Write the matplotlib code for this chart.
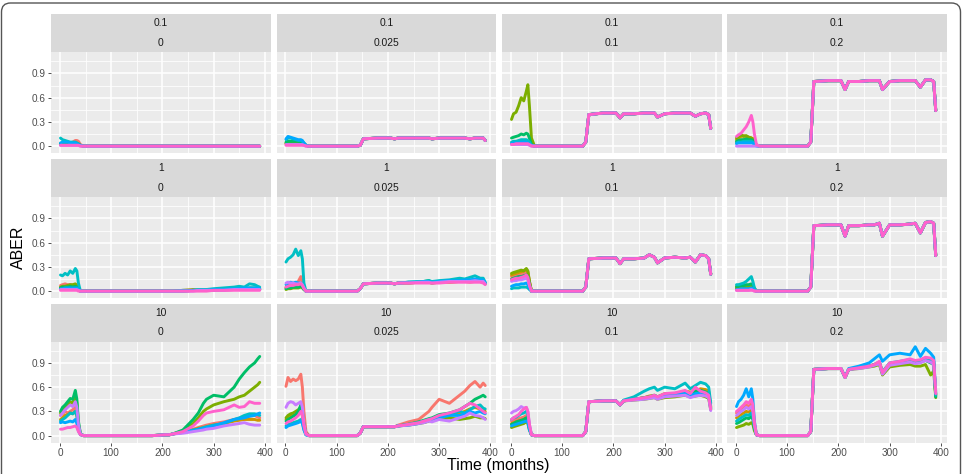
import matplotlib
matplotlib.use('Agg')
import matplotlib.pyplot as plt
from matplotlib.patches import FancyBboxPatch
from matplotlib.transforms import IdentityTransform

plt.rcParams['font.family'] = ['Liberation Sans', 'DejaVu Sans']

# ggplot hue palette, one colour per simulated series
COLORS = ['#F8766D', '#CD9600', '#7CAE00', '#00BE67', '#00BFC4', '#00A9FF', '#C77CFF', '#FF61CC']

# time points (months), split into early / middle / late segments
EARLY_T = [1, 5, 10, 15, 20, 25, 30, 33, 36, 40]
MID_T = [46, 100, 140, 146, 152, 180, 205, 213]
LATE_T = [220, 240, 260, 270, 280, 286, 300, 320, 340, 350, 360, 370, 380, 386, 390]

ROW_LABELS = ['0.1', '1', '10']
COL_LABELS = ['0', '0.025', '0.1', '0.2']

# ---- row "0.1" ----
a_early = [
    [0.02, 0.02, 0.03, 0.03, 0.04, 0.05, 0.07, 0.07, 0.06, 0.02],
    [0.02, 0.02, 0.03, 0.03, 0.03, 0.04, 0.04, 0.04, 0.03, 0.01],
    [0.02, 0.03, 0.03, 0.03, 0.03, 0.03, 0.03, 0.03, 0.02, 0.01],
    [0.03, 0.03, 0.04, 0.04, 0.04, 0.04, 0.03, 0.03, 0.02, 0.01],
    [0.10, 0.08, 0.07, 0.06, 0.05, 0.05, 0.05, 0.04, 0.03, 0.01],
    [0.04, 0.05, 0.05, 0.05, 0.04, 0.04, 0.04, 0.03, 0.02, 0.01],
    [0.01, 0.01, 0.01, 0.01, 0.01, 0.01, 0.01, 0.01, 0.01, 0.0],
    [0.01, 0.01, 0.01, 0.01, 0.01, 0.01, 0.01, 0.01, 0.01, 0.0],
]
a_mid = [0.0, 0.0, 0.0, 0.0, 0.0, 0.0, 0.0, 0.0]
a_late = [0.0, 0.0, 0.0, 0.0, 0.0, 0.0, 0.0, 0.0, 0.0, 0.0, 0.0, 0.0, 0.0, 0.0, 0.0]

b_early = [
    [0.03, 0.03, 0.04, 0.04, 0.04, 0.04, 0.05, 0.04, 0.03, 0.01],
    [0.03, 0.04, 0.04, 0.04, 0.04, 0.05, 0.05, 0.04, 0.03, 0.01],
    [0.04, 0.05, 0.05, 0.05, 0.05, 0.05, 0.05, 0.04, 0.03, 0.01],
    [0.05, 0.06, 0.06, 0.06, 0.06, 0.06, 0.05, 0.05, 0.03, 0.01],
    [0.08, 0.10, 0.10, 0.09, 0.08, 0.07, 0.07, 0.06, 0.04, 0.01],
    [0.09, 0.12, 0.11, 0.10, 0.09, 0.08, 0.08, 0.07, 0.04, 0.01],
    [0.02, 0.02, 0.02, 0.02, 0.02, 0.02, 0.02, 0.02, 0.01, 0.0],
    [0.01, 0.01, 0.01, 0.01, 0.01, 0.01, 0.01, 0.01, 0.01, 0.0],
]
b_mid = [0.0, 0.0, 0.0, 0.01, 0.09, 0.10, 0.10, 0.09]
b_late = [0.10, 0.10, 0.10, 0.10, 0.10, 0.09, 0.10, 0.10, 0.10, 0.10, 0.09, 0.10, 0.10, 0.10, 0.07]

c_early = [
    [0.03, 0.03, 0.04, 0.04, 0.05, 0.05, 0.06, 0.05, 0.03, 0.01],
    [0.03, 0.04, 0.04, 0.05, 0.05, 0.05, 0.05, 0.05, 0.03, 0.01],
    [0.33, 0.40, 0.42, 0.50, 0.60, 0.56, 0.68, 0.76, 0.50, 0.10],
    [0.10, 0.11, 0.12, 0.13, 0.15, 0.14, 0.16, 0.15, 0.10, 0.02],
    [0.05, 0.06, 0.06, 0.07, 0.08, 0.08, 0.08, 0.07, 0.05, 0.01],
    [0.03, 0.04, 0.04, 0.04, 0.05, 0.05, 0.05, 0.04, 0.03, 0.01],
    [0.02, 0.02, 0.02, 0.02, 0.02, 0.02, 0.02, 0.02, 0.01, 0.0],
    [0.02, 0.02, 0.03, 0.03, 0.03, 0.03, 0.03, 0.03, 0.02, 0.0],
]
c_mid = [0.0, 0.0, 0.0, 0.05, 0.39, 0.41, 0.41, 0.35]
c_late = [0.40, 0.40, 0.41, 0.41, 0.41, 0.36, 0.40, 0.41, 0.41, 0.41, 0.37, 0.40, 0.41, 0.39, 0.22]

d_early = [
    [0.05, 0.06, 0.07, 0.08, 0.09, 0.10, 0.10, 0.09, 0.05, 0.01],
    [0.08, 0.10, 0.12, 0.13, 0.12, 0.11, 0.10, 0.09, 0.06, 0.01],
    [0.10, 0.12, 0.14, 0.12, 0.13, 0.11, 0.10, 0.09, 0.05, 0.01],
    [0.06, 0.07, 0.08, 0.08, 0.09, 0.08, 0.08, 0.07, 0.04, 0.01],
    [0.04, 0.05, 0.05, 0.06, 0.06, 0.06, 0.06, 0.05, 0.03, 0.01],
    [0.03, 0.04, 0.04, 0.04, 0.04, 0.04, 0.04, 0.04, 0.02, 0.0],
    [0.0, 0.0, 0.0, 0.0, 0.0, 0.0, 0.0, 0.0, 0.0, 0.0],
    [0.12, 0.14, 0.16, 0.20, 0.24, 0.30, 0.38, 0.30, 0.15, 0.02],
]
d_mid = [0.0, 0.0, 0.0, 0.05, 0.80, 0.81, 0.81, 0.70]
d_late = [0.80, 0.80, 0.81, 0.81, 0.81, 0.70, 0.80, 0.81, 0.81, 0.81, 0.73, 0.82, 0.82, 0.80, 0.44]

# ---- row "1" ----
e_early = [
    [0.07, 0.08, 0.09, 0.08, 0.08, 0.07, 0.08, 0.07, 0.04, 0.0],
    [0.04, 0.05, 0.05, 0.05, 0.06, 0.06, 0.06, 0.05, 0.03, 0.0],
    [0.05, 0.06, 0.06, 0.07, 0.08, 0.08, 0.09, 0.07, 0.04, 0.0],
    [0.04, 0.05, 0.05, 0.05, 0.06, 0.05, 0.06, 0.05, 0.03, 0.0],
    [0.20, 0.19, 0.22, 0.20, 0.25, 0.22, 0.28, 0.25, 0.10, 0.0],
    [0.03, 0.03, 0.04, 0.04, 0.04, 0.04, 0.04, 0.04, 0.02, 0.0],
    [0.02, 0.02, 0.02, 0.02, 0.02, 0.02, 0.02, 0.02, 0.01, 0.0],
    [0.01, 0.01, 0.01, 0.01, 0.01, 0.01, 0.01, 0.01, 0.0, 0.0],
]
e_mid = [0.0, 0.0, 0.0, 0.0, 0.0, 0.0, 0.0, 0.0]
e_late = [
    [0.0, 0.0, 0.01, 0.01, 0.01, 0.01, 0.01, 0.01, 0.02, 0.02, 0.02, 0.02, 0.02, 0.02, 0.02],
    [0.0, 0.01, 0.02, 0.01, 0.01, 0.01, 0.02, 0.02, 0.02, 0.02, 0.02, 0.02, 0.02, 0.02, 0.02],
    [0.0, 0.0, 0.01, 0.01, 0.01, 0.01, 0.01, 0.02, 0.02, 0.02, 0.03, 0.03, 0.03, 0.03, 0.02],
    [0.0, 0.0, 0.01, 0.01, 0.01, 0.02, 0.02, 0.02, 0.03, 0.03, 0.03, 0.04, 0.04, 0.03, 0.03],
    [0.0, 0.01, 0.01, 0.02, 0.02, 0.02, 0.03, 0.04, 0.05, 0.06, 0.05, 0.09, 0.08, 0.06, 0.05],
    [0.0, 0.0, 0.01, 0.01, 0.01, 0.01, 0.02, 0.02, 0.03, 0.03, 0.04, 0.04, 0.04, 0.04, 0.03],
    [0.0, 0.0, 0.0, 0.01, 0.01, 0.01, 0.01, 0.01, 0.02, 0.02, 0.02, 0.02, 0.02, 0.02, 0.02],
    [0.0, 0.0, 0.0, 0.0, 0.0, 0.0, 0.01, 0.01, 0.01, 0.01, 0.01, 0.01, 0.01, 0.01, 0.01],
]

f_early = [
    [0.05, 0.07, 0.08, 0.08, 0.10, 0.12, 0.18, 0.10, 0.04, 0.0],
    [0.04, 0.05, 0.06, 0.06, 0.07, 0.07, 0.08, 0.06, 0.03, 0.0],
    [0.02, 0.03, 0.03, 0.04, 0.04, 0.04, 0.05, 0.04, 0.02, 0.0],
    [0.03, 0.04, 0.04, 0.05, 0.05, 0.05, 0.06, 0.05, 0.02, 0.0],
    [0.36, 0.40, 0.42, 0.45, 0.52, 0.44, 0.50, 0.40, 0.10, 0.0],
    [0.08, 0.10, 0.11, 0.10, 0.11, 0.10, 0.10, 0.08, 0.04, 0.0],
    [0.10, 0.11, 0.10, 0.10, 0.09, 0.09, 0.10, 0.08, 0.04, 0.0],
    [0.05, 0.06, 0.07, 0.07, 0.08, 0.08, 0.09, 0.07, 0.03, 0.0],
]
f_mid = [0.0, 0.0, 0.0, 0.03, 0.09, 0.10, 0.10, 0.09]
f_late = [
    [0.10, 0.10, 0.11, 0.11, 0.11, 0.10, 0.11, 0.11, 0.12, 0.12, 0.11, 0.12, 0.12, 0.11, 0.09],
    [0.10, 0.10, 0.11, 0.11, 0.11, 0.10, 0.11, 0.11, 0.12, 0.12, 0.12, 0.12, 0.12, 0.11, 0.09],
    [0.10, 0.10, 0.11, 0.11, 0.11, 0.10, 0.12, 0.12, 0.12, 0.13, 0.12, 0.13, 0.12, 0.12, 0.10],
    [0.10, 0.11, 0.11, 0.12, 0.13, 0.11, 0.12, 0.13, 0.13, 0.14, 0.13, 0.14, 0.13, 0.13, 0.10],
    [0.10, 0.11, 0.12, 0.12, 0.13, 0.12, 0.13, 0.14, 0.16, 0.15, 0.17, 0.19, 0.16, 0.16, 0.11],
    [0.10, 0.11, 0.11, 0.12, 0.12, 0.11, 0.12, 0.13, 0.13, 0.14, 0.14, 0.15, 0.14, 0.14, 0.10],
    [0.10, 0.10, 0.11, 0.11, 0.11, 0.10, 0.11, 0.12, 0.12, 0.12, 0.12, 0.13, 0.12, 0.12, 0.09],
    [0.10, 0.10, 0.10, 0.10, 0.10, 0.10, 0.10, 0.11, 0.11, 0.11, 0.11, 0.11, 0.11, 0.10, 0.08],
]

g_early = [
    [0.18, 0.19, 0.20, 0.20, 0.21, 0.22, 0.24, 0.22, 0.12, 0.0],
    [0.20, 0.21, 0.22, 0.23, 0.24, 0.25, 0.27, 0.24, 0.12, 0.0],
    [0.22, 0.23, 0.24, 0.25, 0.26, 0.25, 0.28, 0.25, 0.12, 0.0],
    [0.15, 0.16, 0.17, 0.18, 0.18, 0.19, 0.20, 0.18, 0.09, 0.0],
    [0.03, 0.04, 0.04, 0.04, 0.05, 0.05, 0.05, 0.04, 0.02, 0.0],
    [0.06, 0.07, 0.08, 0.08, 0.09, 0.09, 0.10, 0.08, 0.04, 0.0],
    [0.12, 0.13, 0.13, 0.14, 0.14, 0.15, 0.16, 0.14, 0.07, 0.0],
    [0.14, 0.15, 0.16, 0.16, 0.17, 0.18, 0.20, 0.17, 0.08, 0.0],
]
g_mid = [0.0, 0.0, 0.0, 0.05, 0.40, 0.41, 0.41, 0.34]
g_late = [0.40, 0.40, 0.41, 0.45, 0.42, 0.35, 0.41, 0.42, 0.41, 0.42, 0.36, 0.45, 0.44, 0.40, 0.21]

h_early = [
    [0.03, 0.03, 0.04, 0.04, 0.05, 0.05, 0.06, 0.05, 0.02, 0.0],
    [0.05, 0.05, 0.06, 0.06, 0.07, 0.07, 0.08, 0.07, 0.03, 0.0],
    [0.04, 0.04, 0.05, 0.05, 0.06, 0.06, 0.07, 0.06, 0.03, 0.0],
    [0.06, 0.06, 0.07, 0.07, 0.08, 0.08, 0.09, 0.08, 0.03, 0.0],
    [0.08, 0.08, 0.09, 0.10, 0.12, 0.15, 0.18, 0.12, 0.04, 0.0],
    [0.02, 0.02, 0.03, 0.03, 0.03, 0.03, 0.04, 0.03, 0.01, 0.0],
    [0.01, 0.01, 0.01, 0.01, 0.01, 0.01, 0.02, 0.01, 0.0, 0.0],
    [0.01, 0.01, 0.01, 0.01, 0.01, 0.01, 0.01, 0.01, 0.0, 0.0],
]
h_mid = [0.0, 0.0, 0.0, 0.05, 0.81, 0.82, 0.82, 0.68]
h_late = [0.81, 0.81, 0.82, 0.82, 0.84, 0.68, 0.82, 0.82, 0.83, 0.84, 0.72, 0.85, 0.86, 0.84, 0.44]

# ---- row "10" ----
i_early = [
    [0.25, 0.27, 0.30, 0.28, 0.30, 0.32, 0.35, 0.28, 0.12, 0.02],
    [0.20, 0.22, 0.25, 0.26, 0.28, 0.27, 0.30, 0.25, 0.10, 0.02],
    [0.28, 0.32, 0.35, 0.38, 0.42, 0.40, 0.50, 0.40, 0.15, 0.02],
    [0.30, 0.35, 0.38, 0.42, 0.46, 0.45, 0.56, 0.45, 0.18, 0.02],
    [0.18, 0.20, 0.22, 0.25, 0.28, 0.27, 0.30, 0.25, 0.10, 0.02],
    [0.16, 0.17, 0.16, 0.17, 0.18, 0.17, 0.20, 0.15, 0.06, 0.01],
    [0.25, 0.28, 0.32, 0.35, 0.38, 0.36, 0.42, 0.35, 0.14, 0.02],
    [0.08, 0.08, 0.09, 0.10, 0.10, 0.11, 0.12, 0.10, 0.05, 0.01],
]
i_mid = [0.0, 0.0, 0.0, 0.0, 0.0, 0.0, 0.01, 0.01]
i_late = [
    [0.02, 0.05, 0.08, 0.10, 0.12, 0.13, 0.15, 0.17, 0.20, 0.21, 0.22, 0.24, 0.25, 0.23, 0.22],
    [0.02, 0.04, 0.07, 0.09, 0.10, 0.11, 0.13, 0.15, 0.18, 0.19, 0.20, 0.20, 0.20, 0.19, 0.19],
    [0.02, 0.06, 0.15, 0.22, 0.30, 0.33, 0.38, 0.42, 0.45, 0.48, 0.50, 0.55, 0.60, 0.63, 0.66],
    [0.02, 0.07, 0.20, 0.28, 0.40, 0.45, 0.50, 0.48, 0.60, 0.70, 0.78, 0.85, 0.90, 0.95, 0.98],
    [0.02, 0.04, 0.07, 0.08, 0.10, 0.11, 0.13, 0.15, 0.20, 0.22, 0.25, 0.27, 0.27, 0.26, 0.25],
    [0.02, 0.04, 0.06, 0.08, 0.09, 0.10, 0.12, 0.16, 0.20, 0.21, 0.22, 0.24, 0.25, 0.27, 0.28],
    [0.02, 0.03, 0.05, 0.06, 0.07, 0.08, 0.09, 0.12, 0.14, 0.15, 0.16, 0.14, 0.13, 0.13, 0.13],
    [0.02, 0.05, 0.12, 0.18, 0.25, 0.28, 0.30, 0.32, 0.38, 0.35, 0.36, 0.42, 0.40, 0.40, 0.40],
]

j_early = [
    [0.61, 0.72, 0.67, 0.70, 0.68, 0.70, 0.76, 0.60, 0.30, 0.05],
    [0.20, 0.22, 0.24, 0.25, 0.26, 0.27, 0.30, 0.25, 0.12, 0.02],
    [0.22, 0.25, 0.27, 0.28, 0.30, 0.32, 0.35, 0.30, 0.14, 0.02],
    [0.18, 0.20, 0.22, 0.24, 0.26, 0.30, 0.38, 0.30, 0.14, 0.02],
    [0.12, 0.14, 0.15, 0.16, 0.17, 0.18, 0.20, 0.17, 0.08, 0.01],
    [0.10, 0.12, 0.13, 0.14, 0.15, 0.16, 0.18, 0.15, 0.07, 0.01],
    [0.35, 0.40, 0.42, 0.41, 0.38, 0.40, 0.42, 0.35, 0.15, 0.02],
    [0.15, 0.17, 0.18, 0.20, 0.22, 0.25, 0.30, 0.25, 0.12, 0.02],
]
j_mid = [0.0, 0.0, 0.0, 0.03, 0.11, 0.11, 0.11, 0.11]
j_late = [
    [0.13, 0.17, 0.20, 0.25, 0.30, 0.35, 0.45, 0.40, 0.50, 0.55, 0.62, 0.67, 0.60, 0.65, 0.62],
    [0.12, 0.14, 0.16, 0.18, 0.20, 0.21, 0.24, 0.25, 0.28, 0.30, 0.33, 0.35, 0.33, 0.32, 0.30],
    [0.12, 0.13, 0.15, 0.16, 0.18, 0.19, 0.21, 0.22, 0.20, 0.21, 0.22, 0.24, 0.22, 0.22, 0.21],
    [0.12, 0.14, 0.17, 0.19, 0.21, 0.22, 0.26, 0.28, 0.32, 0.36, 0.40, 0.45, 0.48, 0.50, 0.48],
    [0.12, 0.14, 0.16, 0.18, 0.20, 0.21, 0.24, 0.26, 0.30, 0.28, 0.32, 0.36, 0.38, 0.34, 0.33],
    [0.12, 0.13, 0.15, 0.17, 0.19, 0.20, 0.22, 0.25, 0.25, 0.27, 0.30, 0.28, 0.30, 0.28, 0.27],
    [0.12, 0.13, 0.15, 0.16, 0.18, 0.17, 0.20, 0.18, 0.22, 0.24, 0.28, 0.25, 0.24, 0.22, 0.20],
    [0.12, 0.14, 0.16, 0.18, 0.20, 0.21, 0.25, 0.28, 0.32, 0.36, 0.40, 0.38, 0.33, 0.30, 0.28],
]

k_early = [
    [0.18, 0.19, 0.20, 0.21, 0.22, 0.23, 0.25, 0.22, 0.10, 0.01],
    [0.15, 0.16, 0.17, 0.18, 0.19, 0.20, 0.22, 0.19, 0.09, 0.01],
    [0.10, 0.11, 0.12, 0.13, 0.14, 0.15, 0.17, 0.15, 0.07, 0.01],
    [0.14, 0.15, 0.17, 0.18, 0.19, 0.20, 0.22, 0.19, 0.09, 0.01],
    [0.20, 0.22, 0.23, 0.25, 0.27, 0.28, 0.30, 0.26, 0.12, 0.01],
    [0.12, 0.13, 0.14, 0.15, 0.16, 0.17, 0.18, 0.16, 0.07, 0.01],
    [0.28, 0.30, 0.31, 0.33, 0.36, 0.34, 0.35, 0.30, 0.14, 0.01],
    [0.20, 0.22, 0.24, 0.26, 0.30, 0.33, 0.35, 0.30, 0.14, 0.01],
]
k_mid = [0.0, 0.0, 0.0, 0.05, 0.42, 0.43, 0.43, 0.38]
k_late = [
    [0.43, 0.45, 0.47, 0.48, 0.49, 0.47, 0.50, 0.52, 0.54, 0.52, 0.54, 0.56, 0.55, 0.53, 0.35],
    [0.43, 0.45, 0.47, 0.49, 0.50, 0.48, 0.52, 0.52, 0.55, 0.54, 0.55, 0.58, 0.57, 0.55, 0.36],
    [0.43, 0.44, 0.45, 0.46, 0.47, 0.45, 0.47, 0.48, 0.50, 0.48, 0.49, 0.50, 0.48, 0.46, 0.32],
    [0.43, 0.45, 0.47, 0.48, 0.50, 0.48, 0.51, 0.52, 0.54, 0.52, 0.55, 0.56, 0.54, 0.52, 0.34],
    [0.44, 0.48, 0.55, 0.58, 0.60, 0.56, 0.60, 0.58, 0.65, 0.58, 0.62, 0.66, 0.64, 0.60, 0.40],
    [0.43, 0.45, 0.46, 0.47, 0.49, 0.47, 0.50, 0.51, 0.53, 0.50, 0.52, 0.53, 0.52, 0.50, 0.33],
    [0.43, 0.44, 0.45, 0.46, 0.47, 0.45, 0.48, 0.49, 0.50, 0.47, 0.49, 0.50, 0.49, 0.47, 0.31],
    [0.43, 0.45, 0.47, 0.48, 0.50, 0.48, 0.52, 0.53, 0.56, 0.52, 0.60, 0.55, 0.53, 0.50, 0.33],
]

l_early = [
    [0.28, 0.30, 0.33, 0.35, 0.38, 0.36, 0.40, 0.34, 0.15, 0.01],
    [0.22, 0.24, 0.26, 0.28, 0.30, 0.29, 0.32, 0.28, 0.12, 0.01],
    [0.10, 0.11, 0.12, 0.13, 0.15, 0.14, 0.16, 0.14, 0.06, 0.01],
    [0.15, 0.16, 0.18, 0.20, 0.22, 0.21, 0.24, 0.20, 0.09, 0.01],
    [0.18, 0.20, 0.22, 0.24, 0.26, 0.25, 0.28, 0.24, 0.11, 0.01],
    [0.36, 0.42, 0.45, 0.50, 0.58, 0.48, 0.58, 0.45, 0.18, 0.01],
    [0.25, 0.27, 0.30, 0.32, 0.35, 0.33, 0.36, 0.30, 0.13, 0.01],
    [0.30, 0.32, 0.35, 0.38, 0.42, 0.40, 0.45, 0.38, 0.16, 0.01],
]
l_mid = [0.0, 0.0, 0.0, 0.05, 0.82, 0.83, 0.83, 0.72]
l_late = [
    [0.82, 0.84, 0.86, 0.88, 0.90, 0.78, 0.88, 0.90, 0.92, 0.90, 0.92, 0.95, 0.93, 0.90, 0.50],
    [0.82, 0.84, 0.86, 0.88, 0.91, 0.78, 0.89, 0.91, 0.93, 0.92, 0.93, 0.96, 0.95, 0.92, 0.50],
    [0.82, 0.83, 0.85, 0.86, 0.88, 0.75, 0.85, 0.87, 0.88, 0.86, 0.86, 0.88, 0.75, 0.80, 0.47],
    [0.82, 0.84, 0.86, 0.87, 0.90, 0.77, 0.88, 0.90, 0.92, 0.90, 0.91, 0.93, 0.90, 0.88, 0.48],
    [0.82, 0.84, 0.86, 0.88, 0.91, 0.79, 0.90, 0.92, 0.94, 0.92, 0.93, 0.96, 0.94, 0.92, 0.50],
    [0.83, 0.86, 0.90, 0.95, 1.00, 0.92, 1.00, 1.02, 1.00, 1.10, 0.98, 1.08, 1.02, 0.97, 0.52],
    [0.82, 0.83, 0.85, 0.87, 0.89, 0.76, 0.87, 0.89, 0.91, 0.89, 0.90, 0.93, 0.91, 0.88, 0.55],
    [0.82, 0.84, 0.86, 0.88, 0.92, 0.78, 0.90, 0.92, 0.95, 0.93, 0.94, 0.97, 0.96, 0.93, 0.52],
]

PANELS = [
    [(a_early, a_mid, a_late), (b_early, b_mid, b_late), (c_early, c_mid, c_late), (d_early, d_mid, d_late)],
    [(e_early, e_mid, e_late), (f_early, f_mid, f_late), (g_early, g_mid, g_late), (h_early, h_mid, h_late)],
    [(i_early, i_mid, i_late), (j_early, j_mid, j_late), (k_early, k_mid, k_late), (l_early, l_mid, l_late)],
]

W, H = 963, 474
fig = plt.figure(figsize=(W / 100, H / 100), dpi=100)


def box(left, top, w, h):
    # pixel box (top-left origin) -> figure fraction rect
    return [left / W, 1 - (top + h) / H, w / W, h / H]


COL_LEFT = [51, 276.5, 502, 727]
PANEL_W = 219.5
ROW_TOP = [14, 159, 303.5]
STRIP_H = 38
PANEL_H = 101

times = EARLY_T + MID_T + LATE_T

for r in range(3):
    for c in range(4):
        early, mid, late = PANELS[r][c]
        left, top = COL_LEFT[c], ROW_TOP[r]

        # strip
        sax = fig.add_axes(box(left, top, PANEL_W, STRIP_H))
        sax.set_facecolor('#D9D9D9')
        sax.set_xticks([])
        sax.set_yticks([])
        for s in sax.spines.values():
            s.set_visible(False)
        sax.text(0.5, 0.75, ROW_LABELS[r], ha='center', va='center', fontsize=7.4, color='#1A1A1A')
        sax.text(0.5, 0.245, COL_LABELS[c], ha='center', va='center', fontsize=7.4, color='#1A1A1A')

        # panel
        ax = fig.add_axes(box(left, top + STRIP_H, PANEL_W, PANEL_H))
        ax.set_facecolor('#EBEBEB')
        for s in ax.spines.values():
            s.set_visible(False)
        for i, col in enumerate(COLORS):
            lv = late[i] if isinstance(late[0], list) else late
            ax.plot(times, early[i] + mid + lv, color=col, lw=2.1,
                    solid_joinstyle='round', solid_capstyle='round')
        ax.set_xlim(-17.5, 411)
        ax.set_ylim(-0.085, 1.165)
        ax.set_xticks([0, 100, 200, 300, 400])
        ax.set_xticks([50, 150, 250, 350], minor=True)
        ax.set_yticks([0.0, 0.3, 0.6, 0.9])
        ax.set_yticks([0.15, 0.45, 0.75, 1.05], minor=True)
        ax.grid(which='major', color='white', lw=1.1)
        ax.grid(which='minor', color='white', lw=0.55)
        ax.set_axisbelow(True)
        ax.tick_params(which='minor', length=0)
        ax.tick_params(which='major', length=2.5, width=0.6, color='#333333',
                       labelsize=7.2, labelcolor='#4D4D4D', pad=1.5)
        ax.set_yticklabels(['0.0', '0.3', '0.6', '0.9'])
        if c != 0:
            ax.tick_params(axis='y', left=False, labelleft=False)
        if r != 2:
            ax.tick_params(axis='x', bottom=False, labelbottom=False)

fig.text(18 / W, 1 - 247 / H, 'ABER', rotation=90, ha='center', va='center', fontsize=11.5, color='black')
fig.text(498.5 / W, 1 - 473 / H, 'Time (months)', ha='center', va='bottom', fontsize=11.5, color='black')

# rounded outer frame
frame = FancyBboxPatch((1.5, -20), 959, H - 1.5 + 20 - 1.5, boxstyle='round,pad=0,rounding_size=9',
                       transform=IdentityTransform(), facecolor='none', edgecolor='#555555', lw=1.0)
fig.add_artist(frame)

fig.savefig('out.png', dpi=100)
